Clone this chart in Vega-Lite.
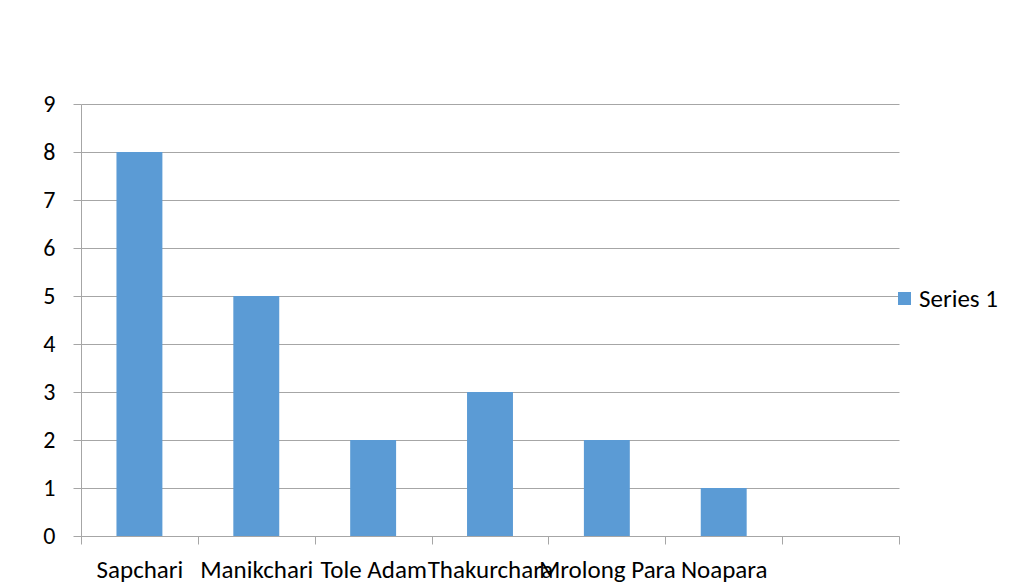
{
  "$schema": "https://vega.github.io/schema/vega-lite/v6.json",
  "width": 818,
  "height": 432,
  "autosize": {"type": "none"},
  "padding": {"left": 81, "top": 104, "right": 124, "bottom": 50},
  "background": "white",
  "data": {
    "values": [
      {"place": "Sapchari", "value": 8, "series": "Series 1"},
      {"place": "Manikchari", "value": 5, "series": "Series 1"},
      {"place": "Tole Adam", "value": 2, "series": "Series 1"},
      {"place": "Thakurchara", "value": 3, "series": "Series 1"},
      {"place": "Mrolong Para", "value": 2, "series": "Series 1"},
      {"place": "Noapara", "value": 1, "series": "Series 1"},
      {"place": " ", "value": 0, "series": "Series 1"}
    ]
  },
  "mark": {"type": "bar", "width": {"band": 0.393}},
  "encoding": {
    "x": {
      "field": "place",
      "type": "nominal",
      "sort": null,
      "scale": {"paddingInner": 0, "paddingOuter": 0},
      "axis": {
        "title": null,
        "labelAngle": 0,
        "tickBand": "extent",
        "tickSize": 8,
        "tickColor": "#a6a6a6",
        "domainColor": "#a6a6a6",
        "labelPadding": 13,
        "labelFontSize": 25,
        "labelFont": "Carlito, Liberation Sans Narrow",
        "labelColor": "#000000",
        "labelOverlap": false,
        "labelLimit": 0,
        "grid": false
      }
    },
    "y": {
      "field": "value",
      "type": "quantitative",
      "scale": {"domain": [0, 9], "nice": false},
      "axis": {
        "title": null,
        "values": [0, 1, 2, 3, 4, 5, 6, 7, 8, 9],
        "grid": true,
        "gridColor": "#a6a6a6",
        "tickColor": "#a6a6a6",
        "domainColor": "#a6a6a6",
        "tickSize": 8,
        "labelPadding": 18,
        "labelFontSize": 24,
        "labelFont": "Carlito, Liberation Sans Narrow",
        "labelColor": "#000000"
      }
    },
    "color": {
      "field": "series",
      "type": "nominal",
      "scale": {"range": ["#5b9bd5"]},
      "legend": {
        "title": null,
        "orient": "none",
        "legendX": 811,
        "legendY": 182,
        "symbolType": "square",
        "symbolSize": 169,
        "symbolStrokeWidth": 0,
        "labelFontSize": 25,
        "labelFont": "Carlito, Liberation Sans Narrow",
        "labelColor": "#000000",
        "labelOffset": 2,
        "padding": 0
      }
    }
  },
  "config": {
    "view": {"stroke": null},
    "axis": {"domainWidth": 1, "gridWidth": 1, "tickWidth": 1}
  }
}
